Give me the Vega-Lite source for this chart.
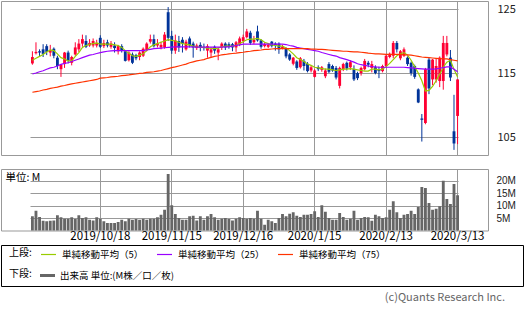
{
"$schema": "https://vega.github.io/schema/vega-lite/v6.json",
"padding": 0,
"background": "white",
"config": {
 "font": "Noto Sans CJK JP",
 "view": {"stroke": "#999999", "strokeWidth": 1},
 "axis": {"gridColor": "#999999", "gridWidth": 1, "gridOpacity": 1, "domain": false, "ticks": false, "labelColor": "#222222", "title": null}
},
"datasets": {"p": [
{"d":"2019/9/23","o":116.5,"h":118.4,"l":116.3,"c":117.5,"v":5.7,"m5":117.0,"m25":114.85,"m75":112.0},
{"d":"2019/9/24","o":118.1,"h":119.8,"l":117.9,"c":118.3,"v":7.9,"m5":117.3,"m25":115.0,"m75":112.1},
{"d":"2019/9/25","o":118.4,"h":118.7,"l":117.6,"c":118.2,"v":5.4,"m5":117.6,"m25":115.2,"m75":112.2},
{"d":"2019/9/26","o":118.7,"h":119.5,"l":117.5,"c":118.0,"v":3.9,"m5":117.9,"m25":115.35,"m75":112.35},
{"d":"2019/9/27","o":119.2,"h":119.5,"l":117.8,"c":118.3,"v":3.7,"m5":118.3,"m25":115.6,"m75":112.45},
{"d":"2019/9/30","o":118.2,"h":119.4,"l":117.6,"c":118.6,"v":3.9,"m5":118.6,"m25":115.8,"m75":112.6},
{"d":"2019/10/1","o":118.8,"h":119.0,"l":117.3,"c":117.7,"v":4.0,"m5":118.5,"m25":115.9,"m75":112.7},
{"d":"2019/10/2","o":117.4,"h":117.7,"l":115.6,"c":116.1,"v":6.1,"m5":118.0,"m25":116.1,"m75":112.8},
{"d":"2019/10/3","o":115.6,"h":116.4,"l":114.4,"c":116.3,"v":5.3,"m5":117.4,"m25":116.35,"m75":112.95},
{"d":"2019/10/4","o":116.4,"h":118.3,"l":115.8,"c":118.2,"v":4.7,"m5":117.2,"m25":116.5,"m75":113.05},
{"d":"2019/10/7","o":118.2,"h":118.5,"l":116.5,"c":116.9,"v":4.7,"m5":116.9,"m25":116.6,"m75":113.2},
{"d":"2019/10/8","o":116.6,"h":117.7,"l":116.2,"c":117.5,"v":5.3,"m5":116.9,"m25":116.8,"m75":113.3},
{"d":"2019/10/9","o":117.9,"h":119.8,"l":117.7,"c":119.0,"v":4.6,"m5":117.6,"m25":117.0,"m75":113.4},
{"d":"2019/10/10","o":118.7,"h":120.3,"l":118.3,"c":119.6,"v":6.1,"m5":118.2,"m25":117.2,"m75":113.5},
{"d":"2019/10/11","o":119.6,"h":121.0,"l":119.1,"c":120.3,"v":5.0,"m5":119.0,"m25":117.4,"m75":113.6},
{"d":"2019/10/14","o":120.0,"h":120.9,"l":118.9,"c":119.1,"v":5.3,"m5":119.3,"m25":117.6,"m75":113.7},
{"d":"2019/10/15","o":119.3,"h":120.3,"l":119.1,"c":119.7,"v":4.3,"m5":119.5,"m25":117.8,"m75":113.8},
{"d":"2019/10/16","o":119.3,"h":120.4,"l":119.0,"c":120.0,"v":4.0,"m5":119.6,"m25":117.9,"m75":113.9},
{"d":"2019/10/17","o":119.3,"h":120.2,"l":119.0,"c":119.7,"v":5.3,"m5":119.7,"m25":118.05,"m75":114.0},
{"d":"2019/10/18","o":120.5,"h":120.9,"l":118.9,"c":119.1,"v":4.7,"m5":119.5,"m25":118.2,"m75":114.2},
{"d":"2019/10/21","o":119.2,"h":120.2,"l":118.9,"c":119.7,"v":3.7,"m5":119.5,"m25":118.3,"m75":114.25},
{"d":"2019/10/22","o":119.8,"h":120.2,"l":119.0,"c":119.3,"v":3.0,"m5":119.5,"m25":118.4,"m75":114.3},
{"d":"2019/10/23","o":119.1,"h":120.0,"l":118.8,"c":119.6,"v":3.0,"m5":119.5,"m25":118.45,"m75":114.4},
{"d":"2019/10/24","o":119.3,"h":119.8,"l":118.2,"c":118.9,"v":3.0,"m5":119.4,"m25":118.5,"m75":114.45},
{"d":"2019/10/25","o":118.4,"h":119.4,"l":117.9,"c":119.2,"v":3.4,"m5":119.3,"m25":118.5,"m75":114.5},
{"d":"2019/10/28","o":119.2,"h":119.5,"l":118.2,"c":118.6,"v":4.3,"m5":119.0,"m25":118.5,"m75":114.6},
{"d":"2019/10/29","o":118.4,"h":118.5,"l":116.8,"c":116.9,"v":3.7,"m5":118.5,"m25":118.5,"m75":114.65},
{"d":"2019/10/30","o":117.0,"h":118.4,"l":116.8,"c":118.2,"v":4.7,"m5":118.1,"m25":118.5,"m75":114.7},
{"d":"2019/10/31","o":117.9,"h":118.2,"l":116.4,"c":116.6,"v":4.3,"m5":117.7,"m25":118.5,"m75":114.8},
{"d":"2019/11/1","o":117.8,"h":118.0,"l":117.0,"c":117.3,"v":4.6,"m5":117.6,"m25":118.5,"m75":114.85},
{"d":"2019/11/4","o":117.5,"h":118.4,"l":117.0,"c":118.2,"v":4.3,"m5":117.8,"m25":118.5,"m75":114.95},
{"d":"2019/11/5","o":117.7,"h":119.0,"l":117.5,"c":118.8,"v":4.7,"m5":118.0,"m25":118.5,"m75":115.0},
{"d":"2019/11/6","o":118.6,"h":119.8,"l":118.4,"c":119.6,"v":4.3,"m5":118.5,"m25":118.6,"m75":115.1},
{"d":"2019/11/7","o":119.9,"h":121.0,"l":119.6,"c":120.3,"v":4.7,"m5":119.1,"m25":118.7,"m75":115.15},
{"d":"2019/11/8","o":120.3,"h":121.0,"l":119.0,"c":119.2,"v":4.7,"m5":119.4,"m25":118.8,"m75":115.2},
{"d":"2019/11/11","o":119.3,"h":120.3,"l":119.0,"c":119.6,"v":5.3,"m5":119.6,"m25":118.85,"m75":115.3},
{"d":"2019/11/12","o":119.0,"h":119.9,"l":118.7,"c":119.4,"v":6.3,"m5":119.8,"m25":118.9,"m75":115.4},
{"d":"2019/11/13","o":119.0,"h":121.4,"l":118.8,"c":121.0,"v":8.3,"m5":120.0,"m25":118.95,"m75":115.55},
{"d":"2019/11/14","o":124.5,"h":125.3,"l":120.0,"c":120.5,"v":22.6,"m5":120.2,"m25":119.0,"m75":115.7},
{"d":"2019/11/15","o":120.8,"h":121.6,"l":118.0,"c":118.5,"v":10.1,"m5":120.1,"m25":119.05,"m75":115.85},
{"d":"2019/11/18","o":118.5,"h":121.0,"l":118.0,"c":120.1,"v":6.6,"m5":120.0,"m25":119.1,"m75":115.95},
{"d":"2019/11/19","o":120.0,"h":120.8,"l":118.3,"c":119.0,"v":5.0,"m5":119.8,"m25":119.1,"m75":116.1},
{"d":"2019/11/20","o":120.2,"h":120.6,"l":118.2,"c":119.6,"v":4.3,"m5":119.6,"m25":119.1,"m75":116.25},
{"d":"2019/11/21","o":118.7,"h":120.2,"l":118.5,"c":119.9,"v":4.3,"m5":119.5,"m25":119.1,"m75":116.4},
{"d":"2019/11/22","o":120.4,"h":120.7,"l":119.0,"c":119.3,"v":5.7,"m5":119.4,"m25":119.1,"m75":116.6},
{"d":"2019/11/25","o":119.6,"h":119.9,"l":117.4,"c":119.0,"v":5.9,"m5":119.2,"m25":119.1,"m75":116.75},
{"d":"2019/11/26","o":118.9,"h":119.6,"l":118.6,"c":119.3,"v":4.0,"m5":119.1,"m25":119.05,"m75":116.9},
{"d":"2019/11/27","o":119.4,"h":119.8,"l":118.4,"c":119.0,"v":5.7,"m5":119.0,"m25":119.05,"m75":117.0},
{"d":"2019/11/29","o":119.1,"h":119.6,"l":118.5,"c":118.9,"v":4.3,"m5":119.0,"m25":119.05,"m75":117.1},
{"d":"2019/12/2","o":118.5,"h":119.5,"l":117.4,"c":119.2,"v":5.7,"m5":118.9,"m25":119.05,"m75":117.3},
{"d":"2019/12/3","o":118.2,"h":119.0,"l":117.4,"c":118.7,"v":6.6,"m5":118.9,"m25":119.05,"m75":117.45},
{"d":"2019/12/4","o":119.1,"h":119.3,"l":118.0,"c":118.5,"v":5.3,"m5":118.8,"m25":119.05,"m75":117.6},
{"d":"2019/12/5","o":118.2,"h":119.0,"l":117.0,"c":118.7,"v":4.3,"m5":118.9,"m25":119.05,"m75":117.7},
{"d":"2019/12/6","o":119.0,"h":119.8,"l":118.6,"c":119.6,"v":4.7,"m5":119.1,"m25":119.05,"m75":117.85},
{"d":"2019/12/9","o":119.6,"h":119.8,"l":118.6,"c":119.0,"v":5.0,"m5":119.2,"m25":119.1,"m75":117.9},
{"d":"2019/12/10","o":119.5,"h":119.8,"l":118.8,"c":119.1,"v":4.6,"m5":119.2,"m25":119.1,"m75":118.0},
{"d":"2019/12/11","o":119.5,"h":119.7,"l":118.4,"c":119.0,"v":4.0,"m5":119.2,"m25":119.2,"m75":118.05},
{"d":"2019/12/12","o":119.0,"h":120.0,"l":118.3,"c":119.8,"v":4.7,"m5":119.3,"m25":119.3,"m75":118.1},
{"d":"2019/12/13","o":119.5,"h":120.7,"l":119.2,"c":120.4,"v":5.3,"m5":119.6,"m25":119.4,"m75":118.2},
{"d":"2019/12/16","o":120.0,"h":121.0,"l":119.7,"c":120.6,"v":5.0,"m5":119.9,"m25":119.5,"m75":118.25},
{"d":"2019/12/17","o":120.6,"h":121.9,"l":120.4,"c":121.5,"v":4.7,"m5":120.2,"m25":119.5,"m75":118.35},
{"d":"2019/12/18","o":121.3,"h":121.6,"l":119.4,"c":119.7,"v":5.0,"m5":120.3,"m25":119.5,"m75":118.4},
{"d":"2019/12/19","o":119.8,"h":120.8,"l":119.5,"c":120.2,"v":4.7,"m5":120.3,"m25":119.5,"m75":118.5},
{"d":"2019/12/20","o":121.5,"h":122.4,"l":119.9,"c":120.1,"v":7.9,"m5":120.4,"m25":119.5,"m75":118.55},
{"d":"2019/12/23","o":120.1,"h":120.3,"l":118.8,"c":119.1,"v":4.7,"m5":120.2,"m25":119.5,"m75":118.6},
{"d":"2019/12/24","o":119.2,"h":119.8,"l":119.0,"c":119.5,"v":2.3,"m5":119.8,"m25":119.5,"m75":118.7},
{"d":"2019/12/26","o":119.1,"h":119.7,"l":118.9,"c":119.4,"v":4.3,"m5":119.6,"m25":119.5,"m75":118.7},
{"d":"2019/12/27","o":119.9,"h":120.0,"l":119.0,"c":119.2,"v":3.7,"m5":119.4,"m25":119.5,"m75":118.75},
{"d":"2019/12/30","o":119.6,"h":119.8,"l":118.5,"c":119.3,"v":3.0,"m5":119.3,"m25":119.5,"m75":118.8},
{"d":"2019/12/31","o":119.6,"h":119.8,"l":118.0,"c":118.7,"v":5.0,"m5":119.2,"m25":119.5,"m75":118.8},
{"d":"2020/1/2","o":118.9,"h":119.4,"l":118.7,"c":119.1,"v":6.6,"m5":119.2,"m25":119.5,"m75":118.8},
{"d":"2020/1/3","o":118.9,"h":119.0,"l":117.3,"c":117.6,"v":5.7,"m5":118.9,"m25":119.45,"m75":118.8},
{"d":"2020/1/6","o":117.9,"h":118.1,"l":116.9,"c":117.1,"v":6.7,"m5":118.5,"m25":119.3,"m75":118.8},
{"d":"2020/1/7","o":116.45,"h":117.5,"l":116.2,"c":117.4,"v":7.3,"m5":118.0,"m25":119.2,"m75":118.8},
{"d":"2020/1/8","o":116.8,"h":117.0,"l":115.5,"c":115.8,"v":5.9,"m5":117.4,"m25":119.0,"m75":118.8},
{"d":"2020/1/9","o":115.9,"h":117.5,"l":115.7,"c":117.3,"v":5.4,"m5":117.1,"m25":118.9,"m75":118.8},
{"d":"2020/1/10","o":116.9,"h":117.2,"l":115.4,"c":116.1,"v":6.3,"m5":116.8,"m25":118.8,"m75":118.8},
{"d":"2020/1/13","o":116.45,"h":116.7,"l":115.1,"c":115.3,"v":6.3,"m5":116.4,"m25":118.7,"m75":118.8},
{"d":"2020/1/14","o":115.4,"h":116.2,"l":115.1,"c":115.9,"v":6.6,"m5":116.2,"m25":118.6,"m75":118.75},
{"d":"2020/1/15","o":114.4,"h":115.6,"l":114.3,"c":115.4,"v":7.7,"m5":115.9,"m25":118.5,"m75":118.75},
{"d":"2020/1/16","o":115.9,"h":116.2,"l":115.3,"c":115.6,"v":5.4,"m5":115.8,"m25":118.4,"m75":118.7},
{"d":"2020/1/17","o":115.5,"h":116.1,"l":115.2,"c":115.9,"v":10.1,"m5":115.7,"m25":118.2,"m75":118.7},
{"d":"2020/1/21","o":114.5,"h":115.7,"l":114.2,"c":115.4,"v":7.5,"m5":115.6,"m25":118.05,"m75":118.65},
{"d":"2020/1/22","o":116.4,"h":116.7,"l":115.0,"c":115.2,"v":5.0,"m5":115.6,"m25":117.9,"m75":118.6},
{"d":"2020/1/23","o":116.1,"h":116.3,"l":115.2,"c":115.4,"v":4.3,"m5":115.5,"m25":117.75,"m75":118.55},
{"d":"2020/1/24","o":115.8,"h":116.1,"l":114.0,"c":114.3,"v":4.3,"m5":115.4,"m25":117.65,"m75":118.5},
{"d":"2020/1/27","o":113.0,"h":116.0,"l":112.6,"c":115.8,"v":7.0,"m5":115.5,"m25":117.4,"m75":118.45},
{"d":"2020/1/28","o":115.6,"h":116.6,"l":115.3,"c":116.4,"v":5.4,"m5":115.6,"m25":117.25,"m75":118.4},
{"d":"2020/1/29","o":116.6,"h":116.8,"l":115.4,"c":115.7,"v":4.3,"m5":115.6,"m25":117.1,"m75":118.4},
{"d":"2020/1/30","o":115.9,"h":117.0,"l":115.5,"c":116.7,"v":4.7,"m5":115.7,"m25":116.9,"m75":118.35},
{"d":"2020/1/31","o":115.6,"h":116.2,"l":113.75,"c":114.0,"v":7.9,"m5":115.6,"m25":116.7,"m75":118.3},
{"d":"2020/2/3","o":115.0,"h":115.2,"l":113.9,"c":114.2,"v":4.3,"m5":115.5,"m25":116.45,"m75":118.3},
{"d":"2020/2/4","o":115.0,"h":116.0,"l":114.6,"c":115.8,"v":5.0,"m5":115.4,"m25":116.3,"m75":118.25},
{"d":"2020/2/5","o":115.6,"h":117.2,"l":115.4,"c":116.9,"v":5.4,"m5":115.3,"m25":116.2,"m75":118.2},
{"d":"2020/2/6","o":116.6,"h":116.9,"l":115.9,"c":116.3,"v":5.3,"m5":115.3,"m25":116.1,"m75":118.1},
{"d":"2020/2/7","o":115.8,"h":116.9,"l":115.1,"c":116.4,"v":3.9,"m5":115.6,"m25":116.0,"m75":118.05},
{"d":"2020/2/10","o":115.9,"h":116.2,"l":114.8,"c":115.0,"v":6.3,"m5":115.6,"m25":115.95,"m75":118.0},
{"d":"2020/2/11","o":115.5,"h":116.0,"l":114.2,"c":115.3,"v":5.7,"m5":115.5,"m25":115.9,"m75":118.0},
{"d":"2020/2/12","o":115.3,"h":116.3,"l":115.1,"c":116.1,"v":5.0,"m5":115.6,"m25":115.9,"m75":117.95},
{"d":"2020/2/13","o":116.1,"h":117.9,"l":115.9,"c":117.7,"v":5.3,"m5":116.0,"m25":115.9,"m75":117.9},
{"d":"2020/2/14","o":117.5,"h":118.2,"l":117.3,"c":118.0,"v":8.3,"m5":116.5,"m25":115.9,"m75":117.9},
{"d":"2020/2/18","o":117.7,"h":120.0,"l":117.3,"c":119.7,"v":11.7,"m5":117.1,"m25":115.9,"m75":117.9},
{"d":"2020/2/19","o":119.7,"h":120.0,"l":118.2,"c":118.7,"v":7.3,"m5":117.7,"m25":115.9,"m75":117.9},
{"d":"2020/2/20","o":117.3,"h":118.6,"l":117.0,"c":118.4,"v":5.0,"m5":118.0,"m25":115.9,"m75":117.9},
{"d":"2020/2/21","o":117.7,"h":119.0,"l":117.5,"c":118.7,"v":6.3,"m5":118.2,"m25":115.9,"m75":117.85},
{"d":"2020/2/24","o":117.4,"h":117.6,"l":116.1,"c":116.4,"v":6.6,"m5":117.8,"m25":115.85,"m75":117.85},
{"d":"2020/2/25","o":116.6,"h":116.8,"l":114.6,"c":115.0,"v":7.9,"m5":117.0,"m25":115.8,"m75":117.8},
{"d":"2020/2/26","o":116.1,"h":116.3,"l":114.1,"c":114.4,"v":6.6,"m5":116.0,"m25":115.75,"m75":117.7},
{"d":"2020/2/27","o":112.45,"h":112.6,"l":110.3,"c":110.4,"v":9.4,"m5":115.0,"m25":115.7,"m75":117.6},
{"d":"2020/2/28","o":107.9,"h":108.6,"l":104.3,"c":107.7,"v":17.4,"m5":113.8,"m25":115.65,"m75":117.5},
{"d":"2020/3/2","o":107.2,"h":115.8,"l":107.0,"c":115.6,"v":17.0,"m5":112.2,"m25":115.6,"m75":117.45},
{"d":"2020/3/3","o":117.1,"h":117.4,"l":111.7,"c":112.6,"v":11.0,"m5":112.3,"m25":115.6,"m75":117.4},
{"d":"2020/3/4","o":114.0,"h":117.2,"l":113.1,"c":117.1,"v":8.3,"m5":112.9,"m25":115.6,"m75":117.35},
{"d":"2020/3/5","o":114.0,"h":117.3,"l":113.5,"c":116.1,"v":8.7,"m5":113.8,"m25":115.65,"m75":117.3},
{"d":"2020/3/6","o":113.75,"h":117.6,"l":112.8,"c":117.4,"v":9.7,"m5":114.8,"m25":115.75,"m75":117.25},
{"d":"2020/3/9","o":113.75,"h":120.8,"l":112.4,"c":119.7,"v":19.9,"m5":115.9,"m25":115.85,"m75":117.2},
{"d":"2020/3/10","o":117.9,"h":120.8,"l":117.6,"c":119.7,"v":12.6,"m5":116.7,"m25":115.95,"m75":117.2},
{"d":"2020/3/11","o":117.4,"h":118.6,"l":113.75,"c":114.3,"v":10.6,"m5":117.0,"m25":115.95,"m75":117.1},
{"d":"2020/3/12","o":105.9,"h":111.6,"l":103.0,"c":104.0,"v":18.6,"m5":115.6,"m25":115.6,"m75":117.0},
{"d":"2020/3/13","o":108.3,"h":114.0,"l":103.9,"c":114.0,"v":14.1,"m5":114.4,"m25":115.2,"m75":116.9}
]},
"spacing": 1,
"vconcat": [
 {
  "spacing": 12,
  "vconcat": [
   {
    "width": 487,
    "height": 154,
    "data": {"name": "p"},
    "encoding": {
     "x": {"field": "d", "type": "ordinal", "sort": null,
       "scale": {"paddingInner": 0.2, "paddingOuter": 0, "range": [29.97, 458.0]},
       "axis": {"values": ["2019/10/18","2019/11/15","2019/12/16","2020/1/15","2020/2/13","2020/3/13"], "labels": false, "grid": true, "bandPosition": 0.5}}
    },
    "layer": [
     {
      "mark": {"type": "rule", "strokeWidth": 1},
      "encoding": {
       "y": {"field": "l", "type": "quantitative",
         "scale": {"domain": [102.2, 126.25], "nice": false, "zero": false},
         "axis": {"orient": "right", "values": [105,110,115,120,125], "grid": true, "labelPadding": 9, "labelFontSize": 11, "labelColor": "#222222"}},
       "y2": {"field": "h"},
       "color": {"condition": {"test": "datum.c >= datum.o", "value": "#ff0033"}, "value": "#003399"}
      }
     },
     {
      "mark": {"type": "bar"},
      "encoding": {
       "y": {"field": "o", "type": "quantitative"},
       "y2": {"field": "c"},
       "color": {"condition": {"test": "datum.c >= datum.o", "value": "#ff0033"}, "value": "#003399"}
      }
     },
     {
      "transform": [{"fold": ["m5", "m25", "m75"], "as": ["s", "val"]}],
      "mark": {"type": "line", "strokeWidth": 1.2},
      "encoding": {
       "y": {"field": "val", "type": "quantitative"},
       "stroke": {"field": "s", "type": "nominal",
         "scale": {"domain": ["m5", "m25", "m75"], "range": ["#99cc00", "#9900ff", "#ff3300"]},
         "legend": {"orient": "none", "legendX": 8, "legendY": 245, "direction": "horizontal",
           "title": "上段:", "titleOrient": "left", "titleAnchor": "middle", "titleBaseline": "middle",
           "titleFontSize": 10, "titleFontWeight": "normal", "titleColor": "#000000", "titlePadding": 8,
           "symbolType": "stroke", "symbolSize": 225, "symbolStrokeWidth": 1.2,
           "labelFontSize": 9.5, "labelColor": "#000000", "labelOffset": 5, "labelLimit": 0,
           "columnPadding": 10, "padding": 0,
           "labelExpr": "datum.label == 'm5' ? '単純移動平均（5）' : datum.label == 'm25' ? '単純移動平均（25）' : '単純移動平均（75）'"}}
      }
     }
    ]
   },
   {
    "width": 487,
    "height": 61.5,
    "data": {"name": "p"},
    "mark": {"type": "bar"},
    "encoding": {
     "x": {"field": "d", "type": "ordinal", "sort": null,
       "scale": {"paddingInner": 0.2, "paddingOuter": 0, "range": [29.97, 458.0]},
       "axis": {"values": ["2019/10/18","2019/11/15","2019/12/16","2020/1/15","2020/2/13","2020/3/13"], "labelAngle": 0, "grid": true, "bandPosition": 0.5,
         "labelPadding": 0, "labelFontSize": 11.5, "labelColor": "#000000",
         "title": "単位: M", "titleX": 4, "titleY": -53.5, "titleAlign": "left", "titleAngle": 0, "titleBaseline": "middle",
         "titleFontWeight": "normal", "titleFontSize": 10.5, "titleColor": "#000000"}},
     "y": {"field": "v", "type": "quantitative",
       "scale": {"domain": [0, 24.6], "nice": false},
       "axis": {"orient": "right", "values": [5,10,15,20], "labelExpr": "datum.value + 'M'", "grid": true, "labelPadding": 8, "labelFont": "Liberation Sans", "labelFontSize": 10, "labelColor": "#222222"}},
     "color": {"datum": "出来高 単位:(M株／口／枚)",
       "scale": {"range": ["#666666"]},
       "legend": {"orient": "none", "legendX": 8, "legendY": 267, "direction": "horizontal",
         "title": "下段:", "titleOrient": "left", "titleAnchor": "middle", "titleBaseline": "middle",
         "titleFontSize": 10, "titleFontWeight": "normal", "titleColor": "#000000", "titlePadding": 8,
         "symbolType": "M-1,-0.2H1V0.2H-1Z", "symbolSize": 225, "symbolStrokeWidth": 0,
         "labelFontSize": 9.5, "labelColor": "#000000", "labelOffset": 5, "labelLimit": 0, "padding": 0}}
    }
   }
  ]
 },
 {
  "width": 522,
  "height": 41,
  "view": {"stroke": "#000000", "strokeWidth": 1},
  "data": {"values": []},
  "mark": {"type": "point"},
  "encoding": {},
  "title": {"text": "(c)Quants Research Inc.", "orient": "bottom", "anchor": "end", "dx": -18, "offset": 6,
    "fontSize": 11, "fontWeight": "normal", "color": "#666666", "font": "Noto Sans CJK JP"}
 }
]
}
